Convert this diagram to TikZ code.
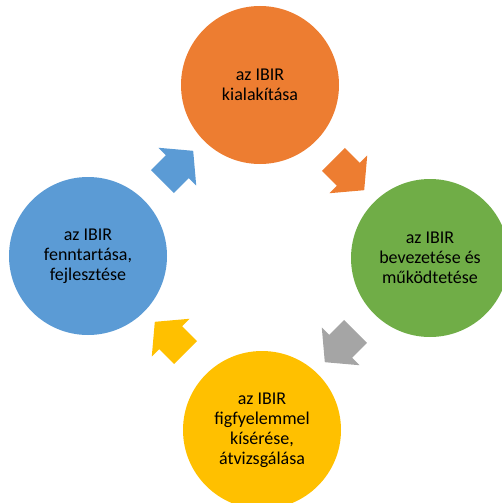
\documentclass[tikz,border=0pt]{standalone}
\usepackage{fontspec}
\setmainfont{Carlito}
\usetikzlibrary{shapes.arrows}
\definecolor{cOrange}{HTML}{ED7D31}
\definecolor{cGreen}{HTML}{70AD47}
\definecolor{cGray}{HTML}{A5A5A5}
\definecolor{cYellow}{HTML}{FFC000}
\definecolor{cBlue}{HTML}{5B9BD5}
\begin{document}
\begin{tikzpicture}[x=1pt,y=-1pt,
  stage/.style={circle, minimum size=158pt, inner sep=0pt, align=center,
    font=\fontsize{18}{20}\selectfont, text=black},
  flow/.style={single arrow, draw=none, minimum height=43.5pt,
    inner xsep=0pt, inner ysep=16pt,
    single arrow head extend=10.5pt, single arrow tip angle=100}]
\useasboundingbox (0,0) rectangle (501,503);
\node[stage, fill=cOrange] (s1) at (260,85) {az IBIR\\kialakítása};
\node[stage, fill=cGreen] (s2) at (430,258) {az IBIR\\bevezetése és\\működtetése};
\node[stage, fill=cYellow] (s3) at (262,430) {az IBIR\\figfyelemmel\\kísérése,\\átvizsgálása};
\node[stage, fill=cBlue] (s4) at (88,256) {az IBIR\\fenntartása,\\fejlesztése};
\node[flow, fill=cOrange, rotate=-45] (a1) at (344,170) {};
\node[flow, fill=cGray, rotate=-135] (a2) at (345,342) {};
\node[flow, fill=cYellow, rotate=135] (a3) at (175,342) {};
\node[flow, fill=cBlue, rotate=45] (a4) at (173,171) {};
\end{tikzpicture}
\end{document}
